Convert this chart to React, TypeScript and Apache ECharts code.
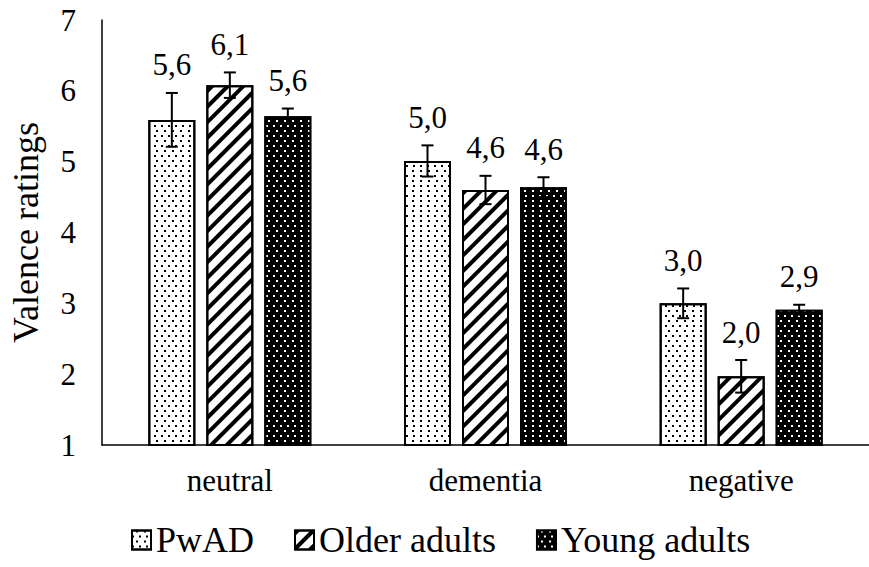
import React, { useEffect, useRef } from "react";
import * as echarts from "echarts";

const categories = ["neutral", "dementia", "negative"];
const seriesNames = ["PwAD", "Older adults", "Young adults"];
const pwadMeans = [5.59, 5.01, 3.0];
const pwadErr = [0.38, 0.22, 0.21];
const olderMeans = [6.08, 4.6, 1.97];
const olderErr = [0.18, 0.2, 0.23];
const youngMeans = [5.64, 4.64, 2.91];
const youngErr = [0.11, 0.14, 0.07];
const yMin = 1;
const yMax = 7;
const yInterval = 1;

const FONT = '"Liberation Serif", "Times New Roman", serif';
const BAR_W = 47;
const BAR_GAP = 11;

const fmt = (v: number) => v.toFixed(1).replace(".", ",");

const dotsDark = {
  symbol: "rect",
  symbolSize: 1,
  color: "#000",
  dashArrayX: [
    [2, 5],
    [0, 3.5, 2, 1.5],
  ],
  dashArrayY: [2, 2.5],
  rotation: 0,
};
const stripes = {
  symbol: "rect",
  symbolSize: 1,
  color: "#000",
  dashArrayX: [1, 0],
  dashArrayY: [4, 6.5],
  rotation: -Math.PI / 4,
};
const dotsLight = {
  symbol: "rect",
  symbolSize: 1,
  color: "#fff",
  dashArrayX: [
    [2, 5],
    [0, 3.5, 2, 1.5],
  ],
  dashArrayY: [2, 2.5],
  rotation: 0,
};

export default function App() {
  const ref = useRef<HTMLDivElement>(null);
  useEffect(() => {
    document.body.style.margin = "0";
    if (!ref.current) return;
    const chart = echarts.init(ref.current, undefined, { renderer: "svg" });
    const means = [pwadMeans, olderMeans, youngMeans];
    const errs = [pwadErr, olderErr, youngErr];
    const fills = ["#fff", "#fff", "#000"];
    const decals = [dotsDark, stripes, dotsLight];

    const barSeries = seriesNames.map((name, i) => ({
      name,
      type: "bar",
      data: means[i],
      barWidth: BAR_W,
      barGap: (BAR_GAP / BAR_W) * 100 + "%",
      itemStyle: {
        color: fills[i],
        borderColor: "#000",
        borderWidth: 2,
        decal: decals[i],
      },
      z: 2,
    }));

    const errSeries = seriesNames.map((name, i) => ({
      name: name + " err",
      type: "custom",
      z: 3,
      data: categories.map((_, c) => [c, means[i][c], errs[i][c]]),
      encode: { x: 0, y: 1 },
      renderItem: (params: any, api: any) => {
        const cat = api.value(0);
        const mean = api.value(1);
        const err = api.value(2);
        const offset = (i - 1) * (BAR_W + BAR_GAP);
        const x = api.coord([cat, mean])[0] + offset;
        const yTop = api.coord([cat, mean + err])[1];
        const yBot = api.coord([cat, mean - err])[1];
        const style = { stroke: "#000", lineWidth: 2 };
        return {
          type: "group",
          children: [
            { type: "line", shape: { x1: x, y1: yTop, x2: x, y2: yBot }, style },
            { type: "line", shape: { x1: x - 6, y1: yTop, x2: x + 6, y2: yTop }, style },
            { type: "line", shape: { x1: x - 6, y1: yBot, x2: x + 6, y2: yBot }, style },
            {
              type: "text",
              x,
              y: yTop - 28,
              style: {
                text: fmt(mean),
                fill: "#000",
                fontSize: 31,
                fontFamily: FONT,
                align: "center",
                verticalAlign: "middle",
              },
            },
          ],
        };
      },
    }));

    chart.setOption({
      animation: false,
      backgroundColor: "#fff",
      textStyle: { fontFamily: FONT, color: "#000" },
      grid: { left: 98, right: -12, top: 20, bottom: 122, containLabel: false },
      legend: {
        data: seriesNames,
        left: 126,
        top: 517,
        itemWidth: 19,
        itemHeight: 19,
        itemGap: 40,
        icon: "rect",
        textStyle: { fontSize: 36, fontFamily: FONT, color: "#000" },
      },
      xAxis: {
        type: "category",
        data: categories,
        axisLine: { lineStyle: { color: "#000", width: 1.5 } },
        axisTick: { show: false },
        axisLabel: { fontSize: 31, fontFamily: FONT, color: "#000", margin: 20 },
        splitLine: { show: false },
      },
      yAxis: {
        type: "value",
        min: yMin,
        max: yMax,
        interval: yInterval,
        name: "Valence ratings",
        nameLocation: "middle",
        nameGap: 58,
        nameTextStyle: { fontSize: 36, fontFamily: FONT, color: "#000" },
        axisLine: { show: true, lineStyle: { color: "#000", width: 1.5 } },
        axisTick: { show: false },
        axisLabel: { fontSize: 31, fontFamily: FONT, color: "#000", margin: 26 },
        splitLine: { show: false },
      },
      series: [...barSeries, ...errSeries],
    });
    return () => chart.dispose();
  }, []);
  return <div ref={ref} style={{ width: 869, height: 567 }} />;
}
